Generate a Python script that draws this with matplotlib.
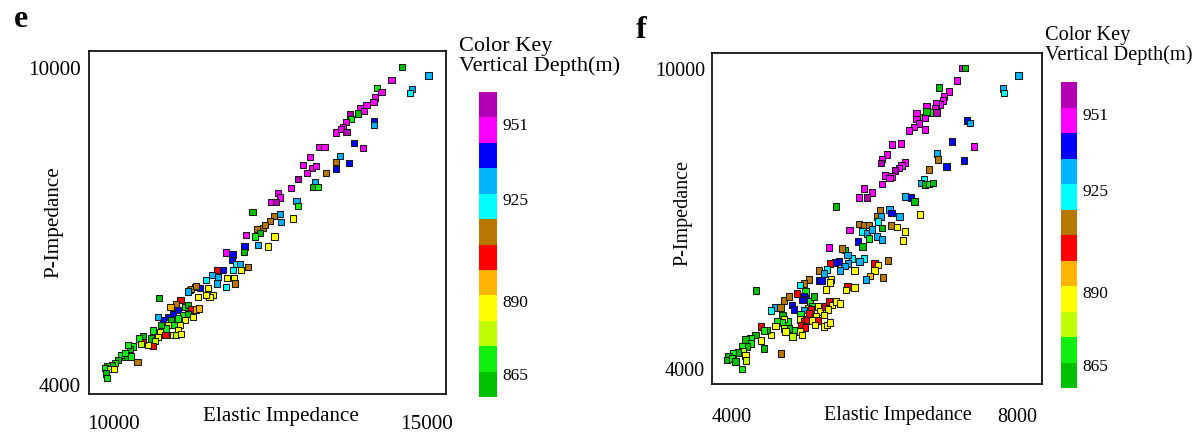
import matplotlib
matplotlib.use("Agg")
import matplotlib.pyplot as plt
from matplotlib.colors import ListedColormap, Normalize
from matplotlib.colorbar import ColorbarBase

plt.rcParams['font.family'] = ['Liberation Serif', 'DejaVu Serif']

# depth zones, bottom (shallow) -> top (deep), as in the colour key
ZONE_COLORS = ['#00c000', '#10f010', '#c0ff00', '#ffff00', '#ffb400', '#ff0000',
               '#b87800', '#00ffff', '#00b4ff', '#0000ff', '#ff00ff', '#b400b4']
DEPTH_RANGE = (857, 962)
DEPTH_TICKS = [865, 890, 925, 951]

# ---- panel e : Elastic Impedance (EI) vs P-Impedance ----
e_ei = [14620, 15040, 14450, 14780, 14750, 14220, 14290, 14190, 14160, 14050,
        13950, 14010, 13910, 13790, 13800, 13720, 13680, 13560, 13640, 13730,
        14170, 14170, 13850, 13990, 13290, 13380, 13620, 13560, 13560, 13770,
        13150, 13030, 13180, 13240, 13100, 13400, 12950, 12840, 13230, 13200,
        13280, 12640, 12670, 12520, 12600, 12930, 12960, 12230, 12670, 12680,
        12870, 12570, 12510, 12400, 12300, 12350, 12270, 12320, 12480, 12580,
        12430, 12120, 12100, 12090, 11800, 11910, 11900, 11960, 12030, 12160,
        12050, 11920, 11760, 11660, 11580, 11680, 11820, 11930, 11950, 11800,
        11660, 11490, 11390, 11310, 11230, 11520, 11600, 11540, 11360, 10740,
        11080, 11010, 10920, 11150, 11200, 11250, 11330, 11370, 11040, 10960,
        10880, 10800, 10720, 11120, 11200, 11280, 11150, 11040, 10930, 10880,
        10970, 11070, 11040, 10960, 11010, 11090, 10850, 10770, 10750, 10840,
        10720, 10640, 10610, 10670, 10640, 10560, 10470, 10480, 10410, 10450,
        10320, 10270, 10240, 10280, 10190, 10130, 10080, 10030, 9980, 9910,
        9870, 9950, 10020, 9890, 9910, 10390, 10190, 11250, 11330, 11200, 11490]
e_pi = [10020, 9860, 9770, 9600, 9520, 9620, 9540, 9440, 9360, 9300,
        9250, 9190, 9140, 9120, 9030, 8980, 8880, 8780, 8850, 8790,
        9000, 8920, 8580, 8480, 8500, 8510, 8330, 8220, 8090, 8200,
        8310, 8160, 8110, 8150, 8010, 8010, 7900, 7730, 7840, 7750,
        7750, 7640, 7550, 7470, 7470, 7480, 7390, 7280, 7230, 7090,
        7150, 7200, 7100, 6970, 6950, 6880, 6810, 6650, 6620, 6810,
        7030, 6840, 6620, 6520, 6510, 6470, 6370, 6290, 6290, 6240,
        6180, 6180, 6180, 6180, 6080, 6040, 6020, 6020, 5920, 5860,
        5920, 5990, 5830, 5860, 5800, 5830, 5700, 5670, 5670, 5650,
        5610, 5530, 5480, 5480, 5510, 5430, 5430, 5450, 5420, 5340,
        5290, 5230, 5280, 5320, 5340, 5290, 5230, 5260, 5230, 5140,
        5140, 5140, 5040, 4950, 4950, 4970, 5070, 5140, 5010, 4950,
        4910, 5030, 4880, 4830, 4740, 4760, 4850, 4930, 4880, 4770,
        4730, 4680, 4760, 4540, 4540, 4570, 4470, 4410, 4380, 4360,
        4320, 4300, 4300, 4220, 4130, 4430, 4600, 5810, 5870, 5770, 5700]
e_zone = [0, 8, 10, 8, 7, 1, 10, 10, 10, 10,
          10, 10, 0, 11, 1, 10, 10, 10, 10, 11,
          9, 8, 9, 10, 10, 10, 8, 6, 9, 9,
          10, 10, 10, 10, 10, 6, 11, 10, 8, 0,
          1, 10, 10, 10, 11, 8, 1, 0, 8, 8,
          3, 6, 6, 6, 6, 0, 1, 8, 3, 3,
          6, 10, 9, 0, 10, 9, 9, 7, 8, 6,
          3, 7, 9, 5, 8, 8, 3, 3, 6, 7,
          8, 7, 9, 6, 7, 3, 3, 3, 3, 0,
          5, 6, 4, 1, 0, 5, 4, 4, 9, 9,
          9, 9, 8, 1, 0, 3, 3, 1, 0, 3,
          1, 3, 3, 3, 2, 3, 1, 0, 3, 5,
          3, 1, 0, 2, 5, 3, 5, 0, 1, 2,
          1, 0, 1, 1, 0, 1, 0, 1, 0, 0,
          1, 2, 3, 0, 1, 6, 1, 6, 6, 8, 3]

# ---- panel f ----
f_ei = [7230, 7270, 8020, 7160, 7800, 7820, 6910, 7050, 6980, 6960,
        6920, 6860, 6850, 6800, 6870, 6730, 6730, 6640, 6590, 6710,
        6590, 6630, 6550, 6480, 6710, 7300, 7340, 7090, 7400, 6250,
        6370, 6880, 6890, 7010, 7260, 6770, 6170, 6100, 6090, 6430,
        6380, 6340, 6290, 6240, 6150, 6210, 6100, 6690, 6650, 6710,
        6770, 6820, 5850, 5960, 5900, 6430, 6510, 6560, 6640, 6210,
        6240, 6350, 6080, 6040, 6090, 6050, 6230, 6320, 6430, 6110,
        6400, 6030, 6110, 5780, 5460, 5650, 5360, 5780, 5850, 5920,
        5830, 5900, 5960, 5770, 5830, 5920, 6190, 6000, 6050, 6000,
        5940, 5880, 6120, 5720, 5850, 5790, 5680, 5630, 5580, 5520,
        5590, 5540, 5620, 5500, 5440, 5380, 5330, 5220, 5290, 5390,
        5380, 5220, 5260, 5320, 5620, 5600, 5720, 5080, 5010, 4950,
        4910, 5030, 5010, 5040, 4980, 5100, 5150, 5120, 5070, 5010,
        4960, 4950, 5010, 5050, 4970, 5020, 4950, 4980, 4870, 4850,
        4840, 4870, 4790, 4800, 4710, 4730, 4700, 4730, 4750, 5210,
        5240, 5310, 5360, 5400, 5460, 5520, 5350, 5290, 5180, 5210,
        5120, 5170, 5290, 5330, 5380, 5110, 5080, 4600, 4550, 4680,
        4730, 4800, 4630, 4610, 4550, 4490, 4410, 4450, 4330, 4260,
        4190, 4270, 4210, 4140, 4150, 4080, 4010, 3950, 3930, 4000,
        4050, 4190, 4200, 4140, 4450, 4410, 4690, 4340]
f_pi = [10020, 10020, 9870, 9770, 9610, 9520, 9630, 9550, 9450, 9370,
        9290, 9310, 9220, 9130, 9130, 9250, 9150, 9040, 9110, 9020,
        9000, 8910, 8840, 8770, 8790, 8970, 8920, 8550, 8450, 8490,
        8510, 8310, 8190, 8050, 8170, 7990, 8290, 8200, 8120, 8130,
        8070, 8020, 7970, 7850, 7870, 7820, 7700, 7790, 7720, 7690,
        7700, 7720, 7610, 7530, 7430, 7450, 7430, 7350, 7090, 7190,
        7120, 7050, 7170, 7050, 7050, 6950, 6870, 6840, 6750, 6820,
        6570, 6650, 6590, 7430, 7250, 6780, 6430, 6900, 6880, 6880,
        6750, 6710, 6790, 6550, 6450, 6610, 6170, 6110, 6080, 5970,
        5860, 5790, 5830, 5970, 6210, 6150, 6210, 6110, 6060, 5970,
        6380, 6410, 6280, 6150, 6130, 6110, 5990, 5970, 5910, 5790,
        5730, 5770, 5770, 5590, 5650, 5580, 5630, 5790, 5710, 5680,
        5510, 5550, 5460, 5390, 5380, 5350, 5450, 5250, 5210, 5180,
        5100, 4990, 4950, 4990, 4880, 4830, 4750, 4680, 4780, 4650,
        5280, 5190, 4950, 4810, 5080, 5000, 4930, 4810, 4750, 5250,
        5150, 5250, 5350, 5280, 5350, 5310, 5190, 5080, 5060, 4970,
        4970, 4880, 4850, 4880, 4930, 5190, 5110, 5230, 5170, 5230,
        5370, 5450, 4950, 4860, 4680, 4780, 4850, 4770, 4680, 4610,
        4590, 4510, 4450, 4450, 4350, 4330, 4310, 4250, 4180, 4210,
        4150, 4270, 4170, 4000, 4410, 4570, 4310, 5570]
f_zone = [10, 0, 8, 10, 8, 7, 0, 10, 10, 10,
          10, 10, 10, 1, 11, 10, 0, 1, 10, 10,
          10, 10, 10, 10, 10, 9, 8, 9, 10, 10,
          10, 8, 6, 9, 9, 6, 10, 10, 11, 10,
          10, 10, 11, 10, 10, 10, 10, 7, 8, 0,
          1, 0, 10, 10, 11, 8, 9, 0, 3, 8,
          9, 8, 6, 6, 8, 7, 6, 3, 3, 0,
          3, 8, 8, 10, 0, 10, 10, 6, 6, 6,
          7, 8, 8, 9, 0, 1, 6, 5, 3, 3,
          4, 8, 6, 3, 7, 8, 7, 8, 8, 8,
          0, 6, 8, 9, 9, 5, 7, 6, 8, 3,
          3, 9, 9, 3, 5, 3, 3, 6, 6, 7,
          5, 1, 9, 9, 9, 1, 0, 1, 3, 8,
          1, 3, 5, 5, 5, 5, 3, 3, 1, 2,
          9, 9, 1, 0, 0, 3, 1, 2, 3, 3,
          3, 5, 5, 3, 3, 3, 3, 3, 3, 5,
          3, 3, 3, 3, 3, 5, 5, 8, 7, 6,
          6, 6, 1, 3, 3, 0, 5, 1, 0, 1,
          0, 1, 0, 1, 2, 0, 1, 0, 0, 1,
          0, 3, 2, 1, 0, 3, 6, 0]

W, H = 1194, 432
def box(x0, y0, x1, y1):
    return [x0 / W, 1 - y1 / H, (x1 - x0) / W, (y1 - y0) / H]

cmap = ListedColormap(ZONE_COLORS)
fig = plt.figure(figsize=(W / 100, H / 100), dpi=100)

panels = [
    dict(ax=box(89, 51, 446, 394), cb=box(479, 92, 497, 397), ei=e_ei, pi=e_pi, z=e_zone,
         xlim=(9617, 15319), ylim=(3830, 10322), xt=[10000, 15000], fs=15.2, kfs=16,
         xpad=15, ypad=6, xlab=(0.537, -0.066), ylab=(-0.098, 0.50),
         letter='e', lxy=(14, 27), key_xy=(459, 37)),
    dict(ax=box(712, 53, 1042, 384), cb=box(1061, 82, 1077, 388), ei=f_ei, pi=f_pi, z=f_zone,
         xlim=(3719, 8351), ylim=(3700, 10320), xt=[4000, 8000], fs=14.5, kfs=14.7,
         xpad=17, ypad=5, xlab=(0.564, -0.094), ylab=(-0.088, 0.517),
         letter='f', lxy=(636, 38), key_xy=(1045, 26)),
]

for p in panels:
    ax = fig.add_axes(p['ax'])
    ax.scatter(p['ei'], p['pi'], c=p['z'], cmap=cmap, vmin=-0.5, vmax=11.5,
               marker='s', s=20, edgecolors='#1a1a1a', linewidths=0.75, zorder=3)
    ax.set_xlim(*p['xlim']); ax.set_ylim(*p['ylim'])
    ax.set_xticks(p['xt']); ax.set_yticks([4000, 10000])
    ax.tick_params(axis='x', length=0, pad=p['xpad'], labelsize=p['fs'])
    ax.tick_params(axis='y', length=0, pad=p['ypad'], labelsize=p['fs'])
    for s in ax.spines.values():
        s.set_linewidth(1.2); s.set_color('black')
    ax.set_xlabel('Elastic Impedance', fontsize=p['fs'], va='center')
    ax.xaxis.set_label_coords(*p['xlab'])
    ax.set_ylabel('P-Impedance', fontsize=p['fs'], va='center')
    ax.yaxis.set_label_coords(*p['ylab'])

    cax = fig.add_axes(p['cb'])
    cb = ColorbarBase(cax, cmap=cmap, norm=Normalize(*DEPTH_RANGE), orientation='vertical')
    cb.outline.set_visible(False)
    cb.set_ticks(DEPTH_TICKS)
    cax.tick_params(length=0, pad=4, labelsize=12.5)

    fig.text(p['lxy'][0] / W, 1 - p['lxy'][1] / H, p['letter'], fontsize=23,
             fontweight='bold', va='baseline', ha='left')
    fig.text(p['key_xy'][0] / W, 1 - p['key_xy'][1] / H, 'Color Key\nVertical Depth(m)',
             fontsize=p['kfs'], va='top', ha='left', linespacing=1.05)

fig.savefig('out.png', dpi=100, facecolor='white')
